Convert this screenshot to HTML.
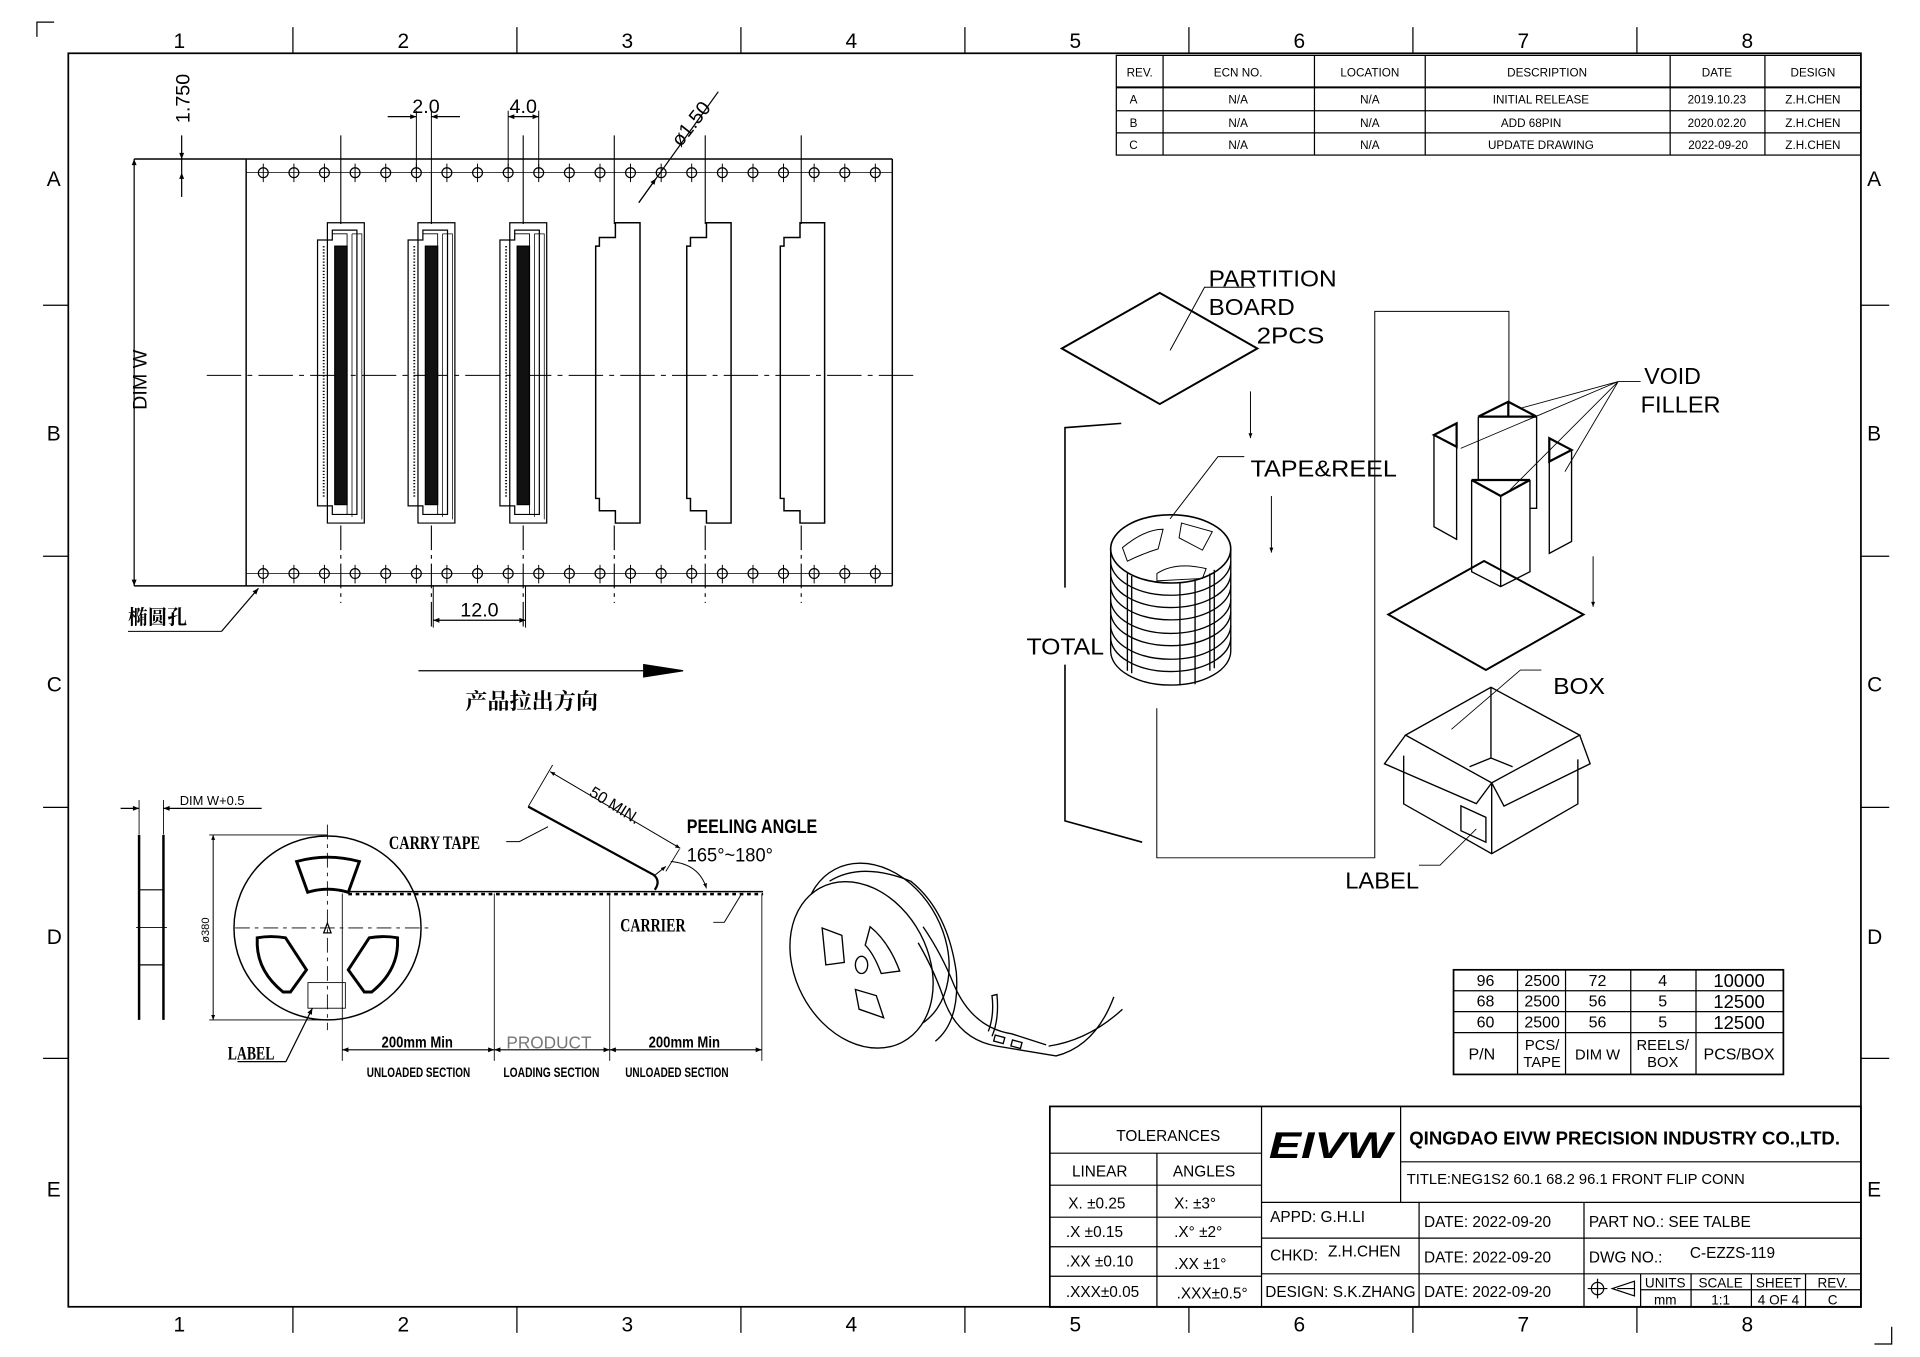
<!DOCTYPE html>
<html><head><meta charset="utf-8"><style>
html,body{margin:0;padding:0;background:#fff}
svg{display:block}
text{font-family:"Liberation Sans","Noto Sans CJK SC",sans-serif;fill:#000}
.s{font-family:"Liberation Serif","Noto Serif CJK SC",serif;font-weight:bold}
</style></head><body>
<svg width="1920" height="1357" viewBox="0 0 1560 1102.6" preserveAspectRatio="none" xmlns="http://www.w3.org/2000/svg">
<defs>
<marker id="a" viewBox="0 0 10 10" refX="10" refY="5" markerWidth="7" markerHeight="5" orient="auto-start-reverse"><path d="M0,1 L10,5 L0,9z" fill="#000"/></marker>
</defs>
<rect width="1560" height="1102.6" fill="#fff"/>
<g fill="none" stroke="#000" stroke-width="1">
<rect x="55.5" y="43.3" width="1456.5" height="1018.5" stroke-width="1.4"/>
<path d="M30,30 V18 H44 M1537,1078 V1092 H1523"/>
<path d="M238,22 V43 M420,22 V43 M602,22 V43 M784,22 V43 M966,22 V43 M1148,22 V43 M1330,22 V43"/>
<path d="M238,1062 V1083 M420,1062 V1083 M602,1062 V1083 M784,1062 V1083 M966,1062 V1083 M1148,1062 V1083 M1330,1062 V1083"/>
<path d="M35,248 H55 M35,452 H55 M35,656 H55 M35,860 H55 M1512,248 H1535 M1512,452 H1535 M1512,656 H1535 M1512,860 H1535"/>

<rect x="907" y="45" width="605" height="81"/>
<path d="M907,71 H1512 M907,90 H1512 M907,108 H1512 M945,45 V126 M1068,45 V126 M1158,45 V126 M1357,45 V126 M1434,45 V126"/>
<path d="M907,71 H1512" stroke-width="1.6"/>

<rect x="853" y="899" width="659" height="163" stroke-width="1.4"/>
<path d="M940,937 V1062 M1025,899 V1062 M853,937 H1025 M853,963 H1025 M853,989 H1025 M853,1013 H1025 M853,1037 H1025"/>
<path d="M1138,899 V977 M1138,944 H1512 M1025,977 H1512 M1025,1006 H1512 M1025,1035 H1512 M1153,977 V1062 M1287,977 V1062"/>
<path d="M1333,1035 V1062 M1374,1035 V1062 M1423,1035 V1062 M1467,1035 V1062 M1333,1048 H1512"/>
<circle cx="1298" cy="1047" r="5"/><path d="M1290,1047 H1306 M1298,1039 V1055"/>
<path d="M1310,1047 L1328,1041 V1053 Z M1314,1047 H1328"/>

<rect x="1181" y="788" width="268" height="85" stroke-width="1.4"/>
<path d="M1181,805 H1449 M1181,822 H1449 M1181,839 H1449 M1233,788 V873 M1272,788 V873 M1325,788 V873 M1378,788 V873"/>

<path d="M109,129.2 H725 M109,476 H725 M200,129.2 V476 M725,129.2 V476" stroke-width="1.2"/>
<path d="M200,140.3 H725 M200,466 H725" stroke-width="0.6"/>
<path d="M109,129.2 V476" marker-start="url(#a)" marker-end="url(#a)"/>
<path d="M147.6,110 V129.2" marker-end="url(#a)"/><path d="M147.6,160 V140.3" marker-end="url(#a)"/>
<path d="M147.6,129.2 V140.3"/>
<g id="holes">
<circle cx="213.9" cy="140.3" r="4"/><circle cx="238.8" cy="140.3" r="4"/><circle cx="263.6" cy="140.3" r="4"/><circle cx="288.5" cy="140.3" r="4"/><circle cx="313.4" cy="140.3" r="4"/><circle cx="338.3" cy="140.3" r="4"/><circle cx="363.1" cy="140.3" r="4"/><circle cx="388" cy="140.3" r="4"/><circle cx="412.9" cy="140.3" r="4"/><circle cx="437.7" cy="140.3" r="4"/><circle cx="462.6" cy="140.3" r="4"/><circle cx="487.5" cy="140.3" r="4"/><circle cx="512.3" cy="140.3" r="4"/><circle cx="537.2" cy="140.3" r="4"/><circle cx="562" cy="140.3" r="4"/><circle cx="586.9" cy="140.3" r="4"/><circle cx="611.8" cy="140.3" r="4"/><circle cx="636.6" cy="140.3" r="4"/><circle cx="661.5" cy="140.3" r="4"/><circle cx="686.4" cy="140.3" r="4"/><circle cx="711.2" cy="140.3" r="4"/>
</g>
<path stroke-width="0.8" d="M213.9,133V148 M238.8,133V148 M263.6,133V148 M288.5,133V148 M313.4,133V148 M338.3,133V148 M363.1,133V148 M388,133V148 M412.9,133V148 M437.7,133V148 M462.6,133V148 M487.5,133V148 M512.3,133V148 M537.2,133V148 M562,133V148 M586.9,133V148 M611.8,133V148 M636.6,133V148 M661.5,133V148 M686.4,133V148 M711.2,133V148"/>
<use href="#holes" transform="translate(0,325.7)"/>
<path stroke-width="0.8" d="M213.9,459V474 M238.8,459V474 M263.6,459V474 M288.5,459V474 M313.4,459V474 M338.3,459V474 M363.1,459V474 M388,459V474 M412.9,459V474 M437.7,459V474 M462.6,459V474 M487.5,459V474 M512.3,459V474 M537.2,459V474 M562,459V474 M586.9,459V474 M611.8,459V474 M636.6,459V474 M661.5,459V474 M686.4,459V474 M711.2,459V474"/>
<path d="M168,305 H745" stroke-dasharray="28,5,4,5" stroke-width="0.9"/>
<path d="M276.9,110 V182 M350.5,140 V182 M425.1,110 V182 M499.1,110 V182 M573,110 V182 M651,110 V182" stroke-width="0.9"/>
<path d="M276.9,427 V490 M350.5,427 V510 M425.1,427 V510 M499.1,427 V490 M573,427 V490 M651,427 V490" stroke-width="0.9" stroke-dasharray="20,4,3,4"/>
<path d="M338.3,140 V90 M350.5,140 V90 M412.9,140 V90 M437.7,140 V90" stroke-width="0.8"/>
<path d="M315,94.8 H338.3" marker-end="url(#a)"/><path d="M373.7,94.8 H350.5" marker-end="url(#a)"/>
<path d="M412.9,94.8 H437.7" marker-start="url(#a)" marker-end="url(#a)"/>
<path d="M519,164.7 L583.6,74.5"/><path d="M519,164.7 L533,145" marker-end="url(#a)"/>
<path d="M352,476 V510 M427,476 V510" stroke-width="0.8"/>
<path d="M352,504 H427" marker-start="url(#a)" marker-end="url(#a)"/>
<path d="M180,513 L210,478" marker-end="url(#a)"/><path d="M104,513 H180" stroke-width="0.8"/>
<path d="M340,545 H527" stroke-width="1"/><path d="M523,540 L555,545 L523,550 Z" fill="#000"/>
</g>

<g fill="none" stroke="#000" stroke-width="1">
<g id="cf">
<path d="M266,181 H296 V425 H266 Z" />
<path d="M258,195 H270 V187 H290 V418 H270 V411 H258 Z"/>
<path d="M270,190 H282 V418 H270" stroke-width="0.7"/>
<path d="M286,190 H294 V422 M286,190 V420" stroke-width="0.6"/>
<rect x="272" y="200" width="10" height="210" fill="#111"/>
<path d="M263,200 V405" stroke-dasharray="1,1.5" stroke-width="1.5"/>
</g>
<use href="#cf" transform="translate(73.6,0)"/>
<use href="#cf" transform="translate(148.2,0)"/>
<g id="ce">
<path d="M500,181 H520 V425 H500 V415 H487 V405 H484 V200 H487 V193 H500 Z" stroke-width="1.2"/>
</g>
<use href="#ce" transform="translate(74,0)"/>
<use href="#ce" transform="translate(150,0)"/>
</g>

<g fill="none" stroke="#000" stroke-width="1">
<path d="M113,650 V678 M132.8,650 V678" stroke-width="0.7"/>
<path d="M98,656.8 H113" marker-end="url(#a)"/><path d="M212.6,656.8 H132.8" marker-end="url(#a)"/>
<path d="M113,678.4 V828.7 M132.8,678.4 V828.7" stroke-width="2"/>
<path d="M113,723 H132.8 M113,784 H132.8"/>
<path d="M110.6,753.7 H135.6" stroke-width="0.7"/>
<ellipse cx="266.1" cy="754" rx="76" ry="74.7" stroke-width="1.2"/>
<path d="M191,754 H350" stroke-dasharray="12,4,3,4" stroke-width="0.7"/>
<path d="M266,670 V837" stroke-dasharray="12,4,3,4" stroke-width="0.7"/>
<path d="M263,758 L266,750 L269,758 Z"/>
<path d="M241,700 Q266,693 292,700 L283,725 Q266,720 250,725 Z" stroke-width="2.4"/>
<path d="M209,762 Q220,760 232,762 L249,788 L236,806 L230,806 Q210,790 209,768 Z" stroke-width="2.4"/>
<path d="M323,762 Q312,760 300,762 L283,788 L296,806 L302,806 Q322,790 323,768 Z" stroke-width="2.4"/>
<rect x="250.2" y="798.4" width="30.4" height="20.8" stroke-width="0.7"/>
<path d="M173.2,678.4 V828.7" marker-start="url(#a)" marker-end="url(#a)" stroke-width="0.8"/>
<path d="M170,678.4 H266 M170,828.7 H266" stroke-width="0.7"/>
<path d="M280.6,724.5 H620" stroke-width="1.2"/>
<path d="M283,726.5 H620" stroke-dasharray="3,3" stroke-width="2"/>
<path d="M278.1,726 V862 M401.6,726 V862 M495.4,726 V862 M619,726 V862" stroke-width="0.7"/>
<path d="M278.1,853 H401.6" marker-start="url(#a)" marker-end="url(#a)"/>
<path d="M401.6,853 H495.4" marker-start="url(#a)" marker-end="url(#a)"/>
<path d="M495.4,853 H619" marker-start="url(#a)" marker-end="url(#a)"/>
<path d="M193,862.6 H232.3 L253.8,819.2" marker-end="url(#a)"/>
<path d="M429.2,655.4 L531.2,710.9 Q537,716 532,723" stroke-width="1.8"/>
<path d="M449,621.6 L429.2,655.4 M552,690 L541,708" stroke-width="0.7"/>
<path d="M447,627 L552.7,689.3" marker-start="url(#a)" marker-end="url(#a)" stroke-width="0.8"/>
<path d="M411.3,683.8 H422 L445.3,671.7" stroke-width="0.8"/>
<path d="M545,700 Q568,702 574,721.8" marker-end="url(#a)" stroke-width="0.8"/>
<path d="M531,712 L541,704" marker-end="url(#a)" stroke-width="0.8"/>
<path d="M579.5,749.4 H588.5 L602.8,725.8" stroke-width="0.8"/>
</g>

<g fill="none" stroke="#000" stroke-width="1.1">
<ellipse cx="712" cy="770" rx="55" ry="72" transform="rotate(-28 712 770)"/>
<path d="M674,716 Q700,700 740,716 Q770,740 777,790 Q780,830 760,846" />
<ellipse cx="700" cy="784" rx="54" ry="71" transform="rotate(-28 700 784)" fill="#fff"/>
<ellipse cx="700" cy="784" rx="5" ry="7"/>
<path d="M668,754 L684,760 L686,782 L671,784 Z"/>
<path d="M707,753 Q722,765 731,789 L716,791 Q710,775 703,768 Z"/>
<path d="M695,804 L712,809 L718,827 L698,820 Z"/>
<path d="M750,753 Q765,775 775,800 Q790,835 822,840 L850,849 M746,766 Q760,790 768,815 Q780,845 810,850 L858,858 Q890,850 905,810 M852,850 Q885,845 912,820"/>
<path d="M803,838 Q808,825 806,809 L810,808 Q812,828 806,842"/>
<rect x="808" y="842" width="8" height="5" transform="rotate(15 812 844)"/>
<rect x="822" y="846" width="8" height="5" transform="rotate(15 826 848)"/>
</g>

<g fill="none" stroke="#000" stroke-width="1.1">
<path d="M862.7,283.2 L942.3,238 L1021.6,283.2 L942.3,328.3 Z" stroke-width="1.6"/>
<path d="M950.7,284.7 L978.7,233.4 H1019" stroke-width="0.8"/>
<path d="M1016,318 V356" marker-end="url(#a)" stroke-width="0.8"/>
<path d="M911,344 L865.3,347.5 V477.5 M865.3,540 V667 L928,684.3" stroke-width="1.3"/>
<path d="M939.9,575.5 V697 H1117 V253 H1226 V326" stroke-width="0.8"/>
<path d="M1033,403 V449" marker-end="url(#a)" stroke-width="0.8"/>
<path d="M950.7,421.6 L989.6,371 H1011" stroke-width="0.8"/>
<path d="M902.4,446 V529 A48.8,27.7 0 0 0 1000,529 V446"/>
<path d="M902.4,456 A48.8,27.7 0 0 0 1000,456 M902.4,466 A48.8,27.7 0 0 0 1000,466 M902.4,476 A48.8,27.7 0 0 0 1000,476 M902.4,487 A48.8,27.7 0 0 0 1000,487 M902.4,497 A48.8,27.7 0 0 0 1000,497 M902.4,508 A48.8,27.7 0 0 0 1000,508 M902.4,518 A48.8,27.7 0 0 0 1000,518"/>
<ellipse cx="951.2" cy="446" rx="48.8" ry="27.7" stroke-width="1.3"/>
<path d="M916,466 V545 M919.5,468 V547 M983,466 V545 M986.6,463 V543"/>
<path d="M958.7,473 V557 M971,471 V556"/>
<path d="M912,445 Q930,430 945,430 L941,446 Q928,450 916,456 Z M960,425 L985,432 L977,447 L958,437 Z M940,466 Q955,456 980,462 L977,470 L940,472 Z" stroke-width="0.8"/>
<path d="M1201.1,338.5 L1225.5,326.4 L1248.5,338.5 M1225.5,326.4 V338.5 M1201.1,338.5 H1248.5" stroke-width="1.8"/>
<path d="M1201.1,338.5 V390 M1248.5,338.5 V413 H1243"/>
<path d="M1195.7,390 H1243.1 L1219.3,403 Z" fill="#fff" stroke-width="1.8"/>
<path d="M1195.7,390 V464.5 L1219.3,476.6 L1243.1,464.5 V390 M1219.3,403 V476.6"/>
<path d="M1165.1,353.4 L1183.5,344 V363 Z" stroke-width="1.8"/>
<path d="M1165.1,353.4 V428 L1183.5,438.2 V363"/>
<path d="M1258.8,356.1 V375 L1276.9,365.6 Z" stroke-width="1.8"/>
<path d="M1258.8,375 V449.6 L1276.9,440 V365.6"/>
<path d="M1314.8,310 L1235,331.8 M1314.8,310 L1186.8,364.3 M1314.8,310 L1226.8,398.1 M1314.8,310 L1271.5,383.2 M1314.8,310 H1333" stroke-width="0.7"/>
<path d="M1128,499.3 L1205.8,455.8 L1286.6,499.3 L1207.3,544.4 Z" stroke-width="1.6"/>
<path d="M1294.4,452 V493" marker-end="url(#a)" stroke-width="0.8"/>
<path d="M1142,597.3 L1211.4,558.4 L1283.5,597.3 L1212,636.1 Z"/>
<path d="M1142,597.3 L1124.9,620.6 L1199.5,653 L1212,636.1 M1283.5,597.3 L1292,620.6 L1222,655 L1212,636.1"/>
<path d="M1140.5,614 V653.2 L1212,693.7 L1282,653.2 V617 M1212,636.1 V693.7"/>
<path d="M1211.4,558.4 V615.9 L1194,623 M1211.4,615.9 L1229,623"/>
<path d="M1187,654.8 L1207.3,664.1 V684.3 L1187,675 Z"/>
<path d="M1179.3,592.6 L1235.3,544.4 H1252.4 M1152.9,703 H1170 L1199.5,673.5" stroke-width="0.7"/>
</g>

<g font-size="17">
<text x="141" y="39">1</text><text x="323" y="39">2</text><text x="505" y="39">3</text><text x="687" y="39">4</text><text x="869" y="39">5</text><text x="1051" y="39">6</text><text x="1233" y="39">7</text><text x="1415" y="39">8</text>
<text x="141" y="1082">1</text><text x="323" y="1082">2</text><text x="505" y="1082">3</text><text x="687" y="1082">4</text><text x="869" y="1082">5</text><text x="1051" y="1082">6</text><text x="1233" y="1082">7</text><text x="1415" y="1082">8</text>
<text x="38" y="151">A</text><text x="38" y="358">B</text><text x="38" y="562">C</text><text x="38" y="767">D</text><text x="38" y="972">E</text>
<text x="1517" y="151">A</text><text x="1517" y="358">B</text><text x="1517" y="562">C</text><text x="1517" y="767">D</text><text x="1517" y="972">E</text>
</g>
<g font-size="9.5" text-anchor="middle">
<text x="926" y="62">REV.</text><text x="1006" y="62">ECN NO.</text><text x="1113" y="62">LOCATION</text><text x="1257" y="62">DESCRIPTION</text><text x="1395" y="62">DATE</text><text x="1473" y="62">DESIGN</text>
<text x="921" y="84">A</text><text x="1006" y="84">N/A</text><text x="1113" y="84">N/A</text><text x="1252" y="84">INITIAL RELEASE</text><text x="1395" y="84">2019.10.23</text><text x="1473" y="84">Z.H.CHEN</text>
<text x="921" y="103">B</text><text x="1006" y="103">N/A</text><text x="1113" y="103">N/A</text><text x="1244" y="103">ADD 68PIN</text><text x="1395" y="103">2020.02.20</text><text x="1473" y="103">Z.H.CHEN</text>
<text x="921" y="121">C</text><text x="1006" y="121">N/A</text><text x="1113" y="121">N/A</text><text x="1252" y="121">UPDATE DRAWING</text><text x="1396" y="121">2022-09-20</text><text x="1473" y="121">Z.H.CHEN</text>
</g>
<g font-size="12.5">
<text x="907" y="927">TOLERANCES</text>
<text x="871" y="956">LINEAR</text><text x="953" y="956">ANGLES</text>
<text x="868" y="982">X.  ±0.25</text><text x="954" y="982">X:  ±3°</text>
<text x="866" y="1005">.X   ±0.15</text><text x="954" y="1005">.X°  ±2°</text>
<text x="866" y="1029">.XX ±0.10</text><text x="954" y="1031">.XX ±1°</text>
<text x="866" y="1054">.XXX±0.05</text><text x="956" y="1055">.XXX±0.5°</text>
<text x="1032" y="993">APPD:  G.H.LI</text>
<text x="1032" y="1024">CHKD:</text><text x="1079" y="1021">Z.H.CHEN</text>
<text x="1028" y="1054">DESIGN: S.K.ZHANG</text>
<text x="1157" y="997">DATE:  2022-09-20</text><text x="1157" y="1026">DATE:  2022-09-20</text><text x="1157" y="1054">DATE:  2022-09-20</text>
<text x="1291" y="997">PART NO.: SEE TALBE</text>
<text x="1291" y="1026">DWG NO.:</text><text x="1373" y="1022">C-EZZS-119</text>
<text x="1143" y="962" font-size="12">TITLE:NEG1S2  60.1  68.2  96.1  FRONT  FLIP  CONN</text>
</g>
<g font-size="11" text-anchor="middle">
<text x="1353" y="1046">UNITS</text><text x="1398" y="1046">SCALE</text><text x="1445" y="1046">SHEET</text><text x="1489" y="1046">REV.</text>
<text x="1353" y="1060">mm</text><text x="1398" y="1060">1:1</text><text x="1445" y="1060">4 OF 4</text><text x="1489" y="1060">C</text>
</g>
<text x="1031" y="941" font-size="30" font-weight="bold" font-style="italic" textLength="100" lengthAdjust="spacingAndGlyphs">EIVW</text>
<text x="1145" y="930" font-size="15" font-weight="bold" textLength="350" lengthAdjust="spacingAndGlyphs">QINGDAO EIVW PRECISION INDUSTRY CO.,LTD.</text>

<g font-size="13" text-anchor="middle">
<text x="1207" y="801">96</text><text x="1253" y="801">2500</text><text x="1298" y="801">72</text><text x="1351" y="801">4</text><text x="1413" y="802" font-size="15">10000</text>
<text x="1207" y="818">68</text><text x="1253" y="818">2500</text><text x="1298" y="818">56</text><text x="1351" y="818">5</text><text x="1413" y="819" font-size="15">12500</text>
<text x="1207" y="835">60</text><text x="1253" y="835">2500</text><text x="1298" y="835">56</text><text x="1351" y="835">5</text><text x="1413" y="836" font-size="15">12500</text>
<text x="1204" y="861">P/N</text><text x="1253" y="853" font-size="12">PCS/</text><text x="1253" y="867" font-size="12">TAPE</text><text x="1298" y="861" font-size="12">DIM W</text><text x="1351" y="853" font-size="12">REELS/</text><text x="1351" y="867" font-size="12">BOX</text><text x="1413" y="861">PCS/BOX</text>
</g>

<g font-size="16">
<text x="154" y="100" transform="rotate(-90 154 100)">1.750</text>
<text x="335" y="92">2.0</text>
<text x="414" y="92">4.0</text>
<text x="553" y="120" transform="rotate(-52 553 120)">ø1.50</text>
<text x="119" y="333" transform="rotate(-90 119 333)">DIM  W</text>
<text x="374" y="501">12.0</text>
</g>
<text x="104" y="507" font-size="16" class="s">椭圆孔</text>
<text x="378" y="576" font-size="18" class="s">产品拉出方向</text>
<text x="146" y="654" font-size="10.5">DIM  W+0.5</text>
<text x="170" y="766" font-size="9" transform="rotate(-90 170 766)">ø380</text>
<text x="316" y="690" font-size="15" class="s" font-weight="normal" textLength="74" lengthAdjust="spacingAndGlyphs">CARRY TAPE</text>
<text x="478" y="646" font-size="13" transform="rotate(32 478 646)">50 MIN.</text>
<text x="558" y="677" font-size="16" font-weight="bold" textLength="106" lengthAdjust="spacingAndGlyphs">PEELING ANGLE</text>
<text x="558" y="700" font-size="16" textLength="70" lengthAdjust="spacingAndGlyphs">165°~180°</text>
<text x="504" y="757" font-size="15" class="s" font-weight="normal" textLength="53" lengthAdjust="spacingAndGlyphs">CARRIER</text>
<text x="185" y="861" font-size="15" class="s" font-weight="normal" textLength="38" lengthAdjust="spacingAndGlyphs">LABEL</text>
<g font-size="13" class="s" font-weight="normal" text-anchor="middle">
<text x="339" y="851" textLength="58" lengthAdjust="spacingAndGlyphs">200mm Min</text>
<text x="556" y="851" textLength="58" lengthAdjust="spacingAndGlyphs">200mm Min</text>
<text x="340" y="875" font-size="11" textLength="84" lengthAdjust="spacingAndGlyphs">UNLOADED SECTION</text>
<text x="448" y="875" font-size="11" textLength="78" lengthAdjust="spacingAndGlyphs">LOADING SECTION</text>
<text x="550" y="875" font-size="11" textLength="84" lengthAdjust="spacingAndGlyphs">UNLOADED SECTION</text>
</g>
<text x="446" y="852" font-size="14" text-anchor="middle" style="fill:#777">PRODUCT</text>

<g font-size="19" style="font-weight:normal">
<text x="982" y="233" textLength="104" lengthAdjust="spacingAndGlyphs">PARTITION</text>
<text x="982" y="256" textLength="70" lengthAdjust="spacingAndGlyphs">BOARD</text>
<text x="1021" y="279" textLength="55" lengthAdjust="spacingAndGlyphs">2PCS</text>
<text x="1016" y="387" textLength="119" lengthAdjust="spacingAndGlyphs">TAPE&amp;REEL</text>
<text x="834" y="532" textLength="63" lengthAdjust="spacingAndGlyphs">TOTAL</text>
<text x="1336" y="312" textLength="46" lengthAdjust="spacingAndGlyphs">VOID</text>
<text x="1333" y="335" textLength="65" lengthAdjust="spacingAndGlyphs">FILLER</text>
<text x="1262" y="564" textLength="42" lengthAdjust="spacingAndGlyphs">BOX</text>
<text x="1093" y="722" textLength="60" lengthAdjust="spacingAndGlyphs">LABEL</text>
</g>
</svg>
</body></html>
